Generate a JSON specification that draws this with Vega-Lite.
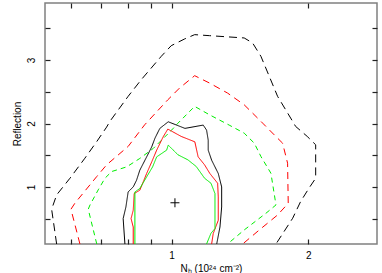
{
  "$schema": "https://vega.github.io/schema/vega-lite/v6.json",
  "width": 332,
  "height": 241,
  "autosize": {"type": "none"},
  "padding": {"left": 45, "top": 3, "right": 5, "bottom": 29},
  "config": {
    "view": {"stroke": "#808080", "strokeWidth": 1.5},
    "font": "Liberation Sans",
    "axis": {"domain": false, "grid": false, "labelFont": "Liberation Sans", "titleFont": "Liberation Sans", "labelFontSize": 10, "titleFontSize": 10, "titleFontWeight": "normal", "labelColor": "#000", "titleColor": "#000"}
  },
  "datasets": {
    "contours": [
      {"s": "kd", "o": 0, "x": 0.558, "y": 0.1},
      {"s": "kd", "o": 1, "x": 0.544, "y": 0.648},
      {"s": "kd", "o": 2, "x": 0.558, "y": 0.874},
      {"s": "kd", "o": 3, "x": 0.597, "y": 1.137},
      {"s": "kd", "o": 4, "x": 0.644, "y": 1.453},
      {"s": "kd", "o": 5, "x": 0.685, "y": 1.722},
      {"s": "kd", "o": 6, "x": 0.719, "y": 1.943},
      {"s": "kd", "o": 7, "x": 0.731, "y": 2.033},
      {"s": "kd", "o": 8, "x": 0.802, "y": 2.428},
      {"s": "kd", "o": 9, "x": 0.857, "y": 2.69},
      {"s": "kd", "o": 10, "x": 0.949, "y": 3.06},
      {"s": "kd", "o": 11, "x": 0.998, "y": 3.227},
      {"s": "kd", "o": 12, "x": 1.068, "y": 3.333},
      {"s": "kd", "o": 13, "x": 1.124, "y": 3.401},
      {"s": "kd", "o": 14, "x": 1.212, "y": 3.385},
      {"s": "kd", "o": 15, "x": 1.445, "y": 3.349},
      {"s": "kd", "o": 16, "x": 1.508, "y": 3.27},
      {"s": "kd", "o": 17, "x": 1.573, "y": 3.06},
      {"s": "kd", "o": 18, "x": 1.641, "y": 2.744},
      {"s": "kd", "o": 19, "x": 1.712, "y": 2.428},
      {"s": "kd", "o": 20, "x": 1.848, "y": 2.033},
      {"s": "kd", "o": 21, "x": 1.876, "y": 1.954},
      {"s": "kd", "o": 22, "x": 1.99, "y": 1.796},
      {"s": "kd", "o": 23, "x": 2.077, "y": 1.664},
      {"s": "kd", "o": 24, "x": 2.077, "y": 1.137},
      {"s": "kd", "o": 25, "x": 2.007, "y": 0.979},
      {"s": "kd", "o": 26, "x": 1.924, "y": 0.769},
      {"s": "kd", "o": 27, "x": 1.848, "y": 0.506},
      {"s": "kd", "o": 28, "x": 1.698, "y": 0.1},

      {"s": "rd", "o": 0, "x": 0.628, "y": 0.1},
      {"s": "rd", "o": 1, "x": 0.6, "y": 0.648},
      {"s": "rd", "o": 2, "x": 0.612, "y": 0.742},
      {"s": "rd", "o": 3, "x": 0.684, "y": 1.164},
      {"s": "rd", "o": 4, "x": 0.719, "y": 1.348},
      {"s": "rd", "o": 5, "x": 0.802, "y": 1.638},
      {"s": "rd", "o": 6, "x": 0.872, "y": 1.979},
      {"s": "rd", "o": 7, "x": 0.981, "y": 2.374},
      {"s": "rd", "o": 8, "x": 1.041, "y": 2.559},
      {"s": "rd", "o": 9, "x": 1.124, "y": 2.754},
      {"s": "rd", "o": 10, "x": 1.212, "y": 2.638},
      {"s": "rd", "o": 11, "x": 1.328, "y": 2.48},
      {"s": "rd", "o": 12, "x": 1.445, "y": 2.295},
      {"s": "rd", "o": 13, "x": 1.508, "y": 2.164},
      {"s": "rd", "o": 14, "x": 1.587, "y": 2.006},
      {"s": "rd", "o": 15, "x": 1.683, "y": 1.821},
      {"s": "rd", "o": 16, "x": 1.756, "y": 1.69},
      {"s": "rd", "o": 17, "x": 1.801, "y": 1.374},
      {"s": "rd", "o": 18, "x": 1.807, "y": 0.742},
      {"s": "rd", "o": 19, "x": 1.712, "y": 0.558},
      {"s": "rd", "o": 20, "x": 1.56, "y": 0.321},
      {"s": "rd", "o": 21, "x": 1.434, "y": 0.1},

      {"s": "gd", "o": 0, "x": 0.684, "y": 0.1},
      {"s": "gd", "o": 1, "x": 0.655, "y": 0.648},
      {"s": "gd", "o": 2, "x": 0.661, "y": 0.716},
      {"s": "gd", "o": 3, "x": 0.689, "y": 0.953},
      {"s": "gd", "o": 4, "x": 0.713, "y": 1.137},
      {"s": "gd", "o": 5, "x": 0.738, "y": 1.243},
      {"s": "gd", "o": 6, "x": 0.796, "y": 1.316},
      {"s": "gd", "o": 7, "x": 0.851, "y": 1.449},
      {"s": "gd", "o": 8, "x": 0.911, "y": 1.607},
      {"s": "gd", "o": 9, "x": 1.0, "y": 1.896},
      {"s": "gd", "o": 10, "x": 1.033, "y": 2.006},
      {"s": "gd", "o": 11, "x": 1.124, "y": 2.27},
      {"s": "gd", "o": 12, "x": 1.212, "y": 2.137},
      {"s": "gd", "o": 13, "x": 1.339, "y": 1.975},
      {"s": "gd", "o": 14, "x": 1.445, "y": 1.848},
      {"s": "gd", "o": 15, "x": 1.521, "y": 1.69},
      {"s": "gd", "o": 16, "x": 1.573, "y": 1.48},
      {"s": "gd", "o": 17, "x": 1.655, "y": 1.216},
      {"s": "gd", "o": 18, "x": 1.698, "y": 0.716},
      {"s": "gd", "o": 19, "x": 1.614, "y": 0.585},
      {"s": "gd", "o": 20, "x": 1.445, "y": 0.321},
      {"s": "gd", "o": 21, "x": 1.328, "y": 0.1},

      {"s": "ks", "o": 0, "x": 0.789, "y": 0.1},
      {"s": "ks", "o": 1, "x": 0.782, "y": 0.501},
      {"s": "ks", "o": 2, "x": 0.793, "y": 0.684},
      {"s": "ks", "o": 3, "x": 0.802, "y": 0.921},
      {"s": "ks", "o": 4, "x": 0.823, "y": 1.0},
      {"s": "ks", "o": 5, "x": 0.837, "y": 1.106},
      {"s": "ks", "o": 6, "x": 0.851, "y": 1.264},
      {"s": "ks", "o": 7, "x": 0.881, "y": 1.474},
      {"s": "ks", "o": 8, "x": 0.904, "y": 1.632},
      {"s": "ks", "o": 9, "x": 0.919, "y": 1.769},
      {"s": "ks", "o": 10, "x": 0.942, "y": 1.923},
      {"s": "ks", "o": 11, "x": 0.983, "y": 2.027},
      {"s": "ks", "o": 12, "x": 1.07, "y": 1.923},
      {"s": "ks", "o": 13, "x": 1.174, "y": 1.975},
      {"s": "ks", "o": 14, "x": 1.194, "y": 1.896},
      {"s": "ks", "o": 15, "x": 1.204, "y": 1.738},
      {"s": "ks", "o": 16, "x": 1.204, "y": 1.58},
      {"s": "ks", "o": 17, "x": 1.225, "y": 1.422},
      {"s": "ks", "o": 18, "x": 1.267, "y": 1.212},
      {"s": "ks", "o": 19, "x": 1.289, "y": 1.0},
      {"s": "ks", "o": 20, "x": 1.289, "y": 0.684},
      {"s": "ks", "o": 21, "x": 1.278, "y": 0.368},
      {"s": "ks", "o": 22, "x": 1.257, "y": 0.1},

      {"s": "rs", "o": 0, "x": 0.823, "y": 0.1},
      {"s": "rs", "o": 1, "x": 0.823, "y": 0.368},
      {"s": "rs", "o": 2, "x": 0.814, "y": 0.501},
      {"s": "rs", "o": 3, "x": 0.823, "y": 0.632},
      {"s": "rs", "o": 4, "x": 0.827, "y": 0.896},
      {"s": "rs", "o": 5, "x": 0.851, "y": 0.948},
      {"s": "rs", "o": 6, "x": 0.881, "y": 1.212},
      {"s": "rs", "o": 7, "x": 0.904, "y": 1.395},
      {"s": "rs", "o": 8, "x": 0.927, "y": 1.58},
      {"s": "rs", "o": 9, "x": 0.958, "y": 1.79},
      {"s": "rs", "o": 10, "x": 0.981, "y": 1.912},
      {"s": "rs", "o": 11, "x": 1.05, "y": 1.796},
      {"s": "rs", "o": 12, "x": 1.125, "y": 1.711},
      {"s": "rs", "o": 13, "x": 1.144, "y": 1.474},
      {"s": "rs", "o": 14, "x": 1.182, "y": 1.348},
      {"s": "rs", "o": 15, "x": 1.214, "y": 1.212},
      {"s": "rs", "o": 16, "x": 1.263, "y": 1.058},
      {"s": "rs", "o": 17, "x": 1.267, "y": 0.842},
      {"s": "rs", "o": 18, "x": 1.267, "y": 0.474},
      {"s": "rs", "o": 19, "x": 1.235, "y": 0.264},
      {"s": "rs", "o": 20, "x": 1.225, "y": 0.1},

      {"s": "gs", "o": 0, "x": 0.83, "y": 0.1},
      {"s": "gs", "o": 1, "x": 0.83, "y": 0.921},
      {"s": "gs", "o": 2, "x": 0.851, "y": 0.975},
      {"s": "gs", "o": 3, "x": 0.881, "y": 1.158},
      {"s": "gs", "o": 4, "x": 0.908, "y": 1.316},
      {"s": "gs", "o": 5, "x": 0.927, "y": 1.474},
      {"s": "gs", "o": 6, "x": 0.975, "y": 1.58},
      {"s": "gs", "o": 7, "x": 0.983, "y": 1.659},
      {"s": "gs", "o": 8, "x": 1.033, "y": 1.506},
      {"s": "gs", "o": 9, "x": 1.086, "y": 1.427},
      {"s": "gs", "o": 10, "x": 1.133, "y": 1.322},
      {"s": "gs", "o": 11, "x": 1.182, "y": 1.137},
      {"s": "gs", "o": 12, "x": 1.221, "y": 1.058},
      {"s": "gs", "o": 13, "x": 1.246, "y": 0.896},
      {"s": "gs", "o": 14, "x": 1.246, "y": 0.343},
      {"s": "gs", "o": 15, "x": 1.221, "y": 0.269},
      {"s": "gs", "o": 16, "x": 1.194, "y": 0.1}
    ],
    "best": [
      {"x": 1.017, "y": 0.75}
    ]
  },
  "layer": [
    {
      "data": {"name": "contours"},
      "mark": {"type": "line", "strokeWidth": 1, "clip": true},
      "encoding": {
        "x": {
          "field": "x", "type": "quantitative",
          "scale": {"type": "log", "domain": [0.526, 2.835], "nice": false},
          "axis": {
            "orient": "bottom",
            "values": [0.6, 0.7, 0.8, 0.9, 1, 2],
            "labelExpr": "datum.value == 1 || datum.value == 2 ? format(datum.value, 'd') : ''",
            "ticks": true, "tickSize": 5, "tickColor": "#222222", "tickWidth": 1.2, "offset": -5,
            "labelPadding": 6,
            "title": "Nₕ (10²⁴ cm⁻²)",
            "titlePadding": 3
          }
        },
        "y": {
          "field": "y", "type": "quantitative",
          "scale": {"domain": [0.1, 3.9], "nice": false, "zero": false},
          "axis": {
            "orient": "left",
            "values": [0.5, 1, 1.5, 2, 2.5, 3, 3.5],
            "labelExpr": "datum.value == 1 || datum.value == 2 || datum.value == 3 ? format(datum.value, 'd') : ''",
            "ticks": true, "tickSize": 5, "tickColor": "#222222", "tickWidth": 1.2, "offset": -5,
            "labelAngle": 270,
            "labelAlign": "center",
            "labelBaseline": "middle",
            "labelPadding": 14,
            "title": "Reflection",
            "titlePadding": 4
          }
        },
        "color": {
          "field": "s", "type": "nominal", "legend": null,
          "scale": {"domain": ["kd", "rd", "gd", "ks", "rs", "gs"], "range": ["#000000", "#ff0000", "#00ee00", "#000000", "#ff0000", "#00ee00"]}
        },
        "strokeDash": {
          "field": "s", "type": "nominal", "legend": null,
          "scale": {"domain": ["kd", "rd", "gd", "ks", "rs", "gs"], "range": [[8, 5], [7, 5], [5, 4], [1, 0], [1, 0], [1, 0]]}
        },
        "order": {"field": "o", "type": "quantitative"}
      }
    },
    {
      "data": {"name": "best"},
      "mark": {"type": "point", "shape": "M-1,0L1,0M0,-1L0,1", "size": 81, "stroke": "#000000", "strokeWidth": 1, "filled": false, "opacity": 1},
      "encoding": {
        "x": {
          "field": "x", "type": "quantitative",
          "axis": {
            "orient": "top",
            "values": [0.6, 0.7, 0.8, 0.9, 1, 2],
            "ticks": true, "tickSize": 5, "tickColor": "#222222", "tickWidth": 1.2, "offset": -5,
            "labels": false,
            "title": null
          }
        },
        "y": {
          "field": "y", "type": "quantitative",
          "axis": {
            "orient": "right",
            "values": [0.5, 1, 1.5, 2, 2.5, 3, 3.5],
            "ticks": true, "tickSize": 5, "tickColor": "#222222", "tickWidth": 1.2, "offset": -5,
            "labels": false,
            "title": null
          }
        }
      }
    }
  ],
  "resolve": {"axis": {"x": "independent", "y": "independent"}}
}
